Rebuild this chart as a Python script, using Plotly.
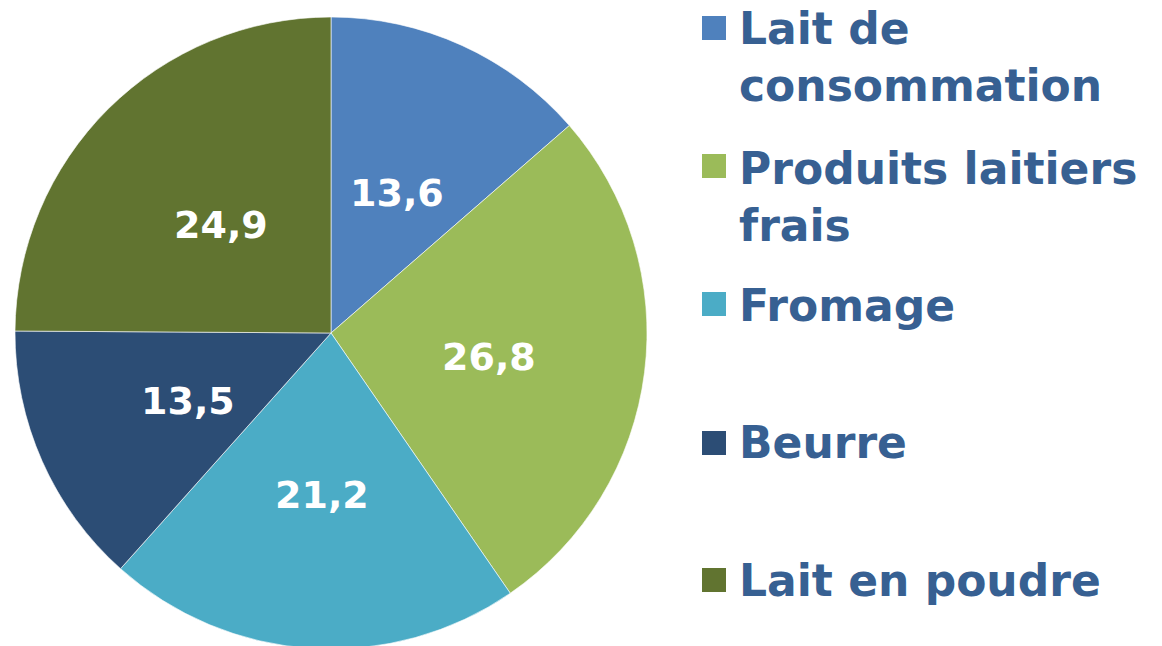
import math
import plotly.graph_objects as go

# ---- data ----
labels = ["Lait de consommation", "Produits laitiers frais", "Fromage", "Beurre", "Lait en poudre"]
legend_text = ["Lait de<br>consommation", "Produits laitiers<br>frais", "Fromage", "Beurre", "Lait en poudre"]
values = [13.6, 26.8, 21.2, 13.5, 24.9]
value_text = ["13,6", "26,8", "21,2", "13,5", "24,9"]
colors = ["#4F81BD", "#9BBB59", "#4BACC6", "#2C4D75", "#617430"]

W, H = 1162, 650
FONT = "DejaVu Sans, Verdana, sans-serif"
TEXT_COLOR = "#376092"


def px_x(x):
    return x / W


def px_y(y):
    return 1 - y / H


# pie geometry in screen pixels
cx, cy, R = 331, 333, 316

fig = go.Figure(go.Pie(
    labels=labels,
    values=values,
    sort=False,
    direction="clockwise",
    rotation=0,
    marker=dict(colors=colors, line=dict(color="rgba(255,255,255,0.6)", width=1)),
    textinfo="none",
    hoverinfo="label+value",
    showlegend=False,
    domain=dict(x=[px_x(cx - R), px_x(cx + R)], y=[max(0, px_y(cy + R)), px_y(cy - R)]),
))

annotations = []
# value labels placed along each slice bisector
total = sum(values)
cum = 0.0
for v, t in zip(values, value_text):
    mid = (cum + v / 2) / total * 2 * math.pi
    cum += v
    r_lab = 0.5 * R
    x = cx + r_lab * math.sin(mid) + 1
    y = cy - r_lab * math.cos(mid) + 4
    annotations.append(dict(
        x=px_x(x), y=px_y(y), xref="paper", yref="paper",
        text=t, showarrow=False, xanchor="center", yanchor="middle",
        font=dict(family=FONT, size=38, color="white", weight="bold"),
    ))

# custom legend
legend_tops = [1, 141, 278, 415, 553]
square_centers = [28, 166, 304, 443, 580]
sq = 24
shapes = []
for txt, col, top, sc in zip(legend_text, colors, legend_tops, square_centers):
    annotations.append(dict(
        x=px_x(737), y=px_y(top), xref="paper", yref="paper",
        text=txt, showarrow=False, xanchor="left", yanchor="top", align="left",
        font=dict(family=FONT, size=44, color=TEXT_COLOR, weight="bold"),
    ))
    shapes.append(dict(
        type="rect", xref="paper", yref="paper",
        x0=px_x(702), x1=px_x(702 + sq),
        y0=px_y(sc + sq / 2), y1=px_y(sc - sq / 2),
        fillcolor=col, line=dict(width=0),
    ))

fig.update_layout(
    width=W, height=H,
    margin=dict(l=0, r=0, t=0, b=0),
    paper_bgcolor="white",
    plot_bgcolor="white",
    annotations=annotations,
    shapes=shapes,
)

fig.write_html(
    "out.html",
    config={"displayModeBar": False},
    post_script="document.body.style.margin='0';document.body.style.overflow='hidden';",
)
